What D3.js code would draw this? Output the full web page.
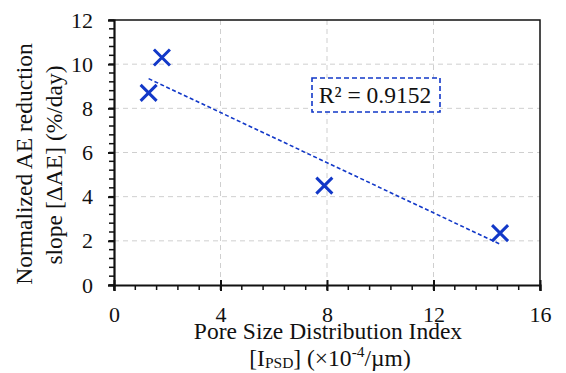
<!DOCTYPE html>
<html>
<head>
<meta charset="utf-8">
<script src="https://cdn.jsdelivr.net/npm/d3@7"></script>
<style>
  body { margin: 0; background: #fff; }
</style>
</head>
<body>
<script>
const psdIndex = [1.3, 1.8, 7.9, 14.5];
const aeSlope = [8.7, 10.3, 4.5, 2.35];
const xTicks = [0, 4, 8, 12, 16];
const yTicks = [0, 2, 4, 6, 8, 10, 12];
const rSquared = "0.9152";

const W = 566, H = 373;
const pLeft = 114, pRight = 540, pTop = 20, pBottom = 285;
const blue = "#1238c8";
const serif = '"Liberation Serif"';

const svg = d3.select("body").append("svg")
    .attr("width", W)
    .attr("height", H);

const x = d3.scaleLinear().domain([0, 16]).range([pLeft, pRight]);
const y = d3.scaleLinear().domain([0, 12]).range([pBottom, pTop]);

// grid
svg.append("g").selectAll("line")
    .data(xTicks.slice(1, -1))
    .enter().append("line")
    .attr("x1", d => x(d)).attr("x2", d => x(d))
    .attr("y1", pTop).attr("y2", pBottom)
    .attr("stroke", "#cfcfcf").attr("stroke-dasharray", "5,4");
svg.append("g").selectAll("line")
    .data(yTicks.slice(1, -1))
    .enter().append("line")
    .attr("y1", d => y(d)).attr("y2", d => y(d))
    .attr("x1", pLeft).attr("x2", pRight)
    .attr("stroke", "#cfcfcf").attr("stroke-dasharray", "5,4");

// box top and right
svg.append("path")
    .attr("d", `M${pLeft},${pTop}H${pRight}V${pBottom}`)
    .attr("fill", "none").attr("stroke", "#111").attr("stroke-width", 1.5);

// minor ticks
const xMinor = d3.range(0, 16.01, 0.8);
const yMinor = d3.range(0, 12.01, 0.4);
svg.append("g").selectAll("line").data(xMinor).enter().append("line")
    .attr("x1", d => x(d)).attr("x2", d => x(d))
    .attr("y1", pBottom).attr("y2", pBottom + 5)
    .attr("stroke", "#111").attr("stroke-width", 1.5);
svg.append("g").selectAll("line").data(yMinor).enter().append("line")
    .attr("y1", d => y(d)).attr("y2", d => y(d))
    .attr("x1", pLeft - 5).attr("x2", pLeft)
    .attr("stroke", "#111").attr("stroke-width", 1.5);

// x axis
const xAxis = svg.append("g")
    .attr("transform", `translate(0,${pBottom})`)
    .call(d3.axisBottom(x).tickValues(xTicks).tickSize(6).tickPadding(0))
    .attr("font-family", "Liberation Serif");
xAxis.select(".domain").attr("stroke", "#111").attr("stroke-width", 2.2);
xAxis.selectAll(".tick line").attr("stroke", "#111").attr("stroke-width", 2)
    .attr("y1", -5).attr("y2", 6);
xAxis.selectAll(".tick text").attr("y", 37).attr("dy", null)
    .attr("font-size", 22).style("font-family", serif).attr("fill", "#111");

// y axis
const yAxis = svg.append("g")
    .attr("transform", `translate(${pLeft},0)`)
    .call(d3.axisLeft(y).tickValues(yTicks).tickSize(6).tickPadding(0))
    .attr("font-family", "Liberation Serif");
yAxis.select(".domain").attr("stroke", "#111").attr("stroke-width", 2.2);
yAxis.selectAll(".tick line").attr("stroke", "#111").attr("stroke-width", 2);
yAxis.selectAll(".tick text").attr("x", -21)
    .attr("font-size", 22).style("font-family", serif).attr("fill", "#111");

// linear trend line
const mx = d3.mean(psdIndex), my = d3.mean(aeSlope);
const sxy = d3.sum(psdIndex, (d, i) => (d - mx) * (aeSlope[i] - my));
const sxx = d3.sum(psdIndex, d => (d - mx) * (d - mx));
const slope = sxy / sxx, icpt = my - slope * mx;
const x0 = d3.min(psdIndex), x1 = d3.max(psdIndex);
svg.append("line")
    .attr("x1", x(x0)).attr("y1", y(icpt + slope * x0))
    .attr("x2", x(x1)).attr("y2", y(icpt + slope * x1))
    .attr("stroke", blue).attr("stroke-width", 1.6)
    .attr("stroke-dasharray", "4,2.5");

// markers
const pts = psdIndex.map((d, i) => [d, aeSlope[i]]);
const s = 8;
svg.append("g").selectAll("path").data(pts).enter().append("path")
    .attr("d", d => {
      const cx = x(d[0]), cy = y(d[1]);
      return `M${cx - s},${cy - s}L${cx + s},${cy + s}M${cx - s},${cy + s}L${cx + s},${cy - s}`;
    })
    .attr("stroke", blue).attr("stroke-width", 3).attr("fill", "none");

// R² label
svg.append("rect")
    .attr("x", 312).attr("y", 78).attr("width", 128).attr("height", 34)
    .attr("fill", "#fff").attr("stroke", blue).attr("stroke-width", 1.6)
    .attr("stroke-dasharray", "5,3");
svg.append("text")
    .attr("x", 375).attr("y", 103)
    .attr("text-anchor", "middle").attr("font-size", 23.5)
    .style("font-family", serif).attr("fill", "#111")
    .text("R² = " + rSquared);

// axis titles
svg.append("text")
    .attr("x", 328).attr("y", 339)
    .attr("text-anchor", "middle").attr("font-size", 23.5)
    .style("font-family", serif).attr("fill", "#111")
    .text("Pore Size Distribution Index");
const t2 = svg.append("text")
    .attr("x", 330).attr("y", 366)
    .attr("text-anchor", "middle").attr("font-size", 23.5)
    .style("font-family", serif).attr("fill", "#111");
t2.append("tspan").text("[I");
t2.append("tspan").attr("font-size", 15.5).attr("dy", 2).text("PSD");
t2.append("tspan").attr("dy", -2).text("] (×10");
t2.append("tspan").attr("font-size", 15.5).attr("dy", -9).text("-4");
t2.append("tspan").attr("dy", 9).text("/µm)");

svg.append("text")
    .attr("transform", "translate(32,164) rotate(-90)")
    .attr("text-anchor", "middle").attr("font-size", 23.5)
    .style("font-family", serif).attr("fill", "#111")
    .text("Normalized AE reduction");
svg.append("text")
    .attr("transform", "translate(62,165) rotate(-90)")
    .attr("text-anchor", "middle").attr("font-size", 23.5)
    .style("font-family", serif).attr("fill", "#111")
    .text("slope [ΔAE] (%/day)");
</script>
</body>
</html>
